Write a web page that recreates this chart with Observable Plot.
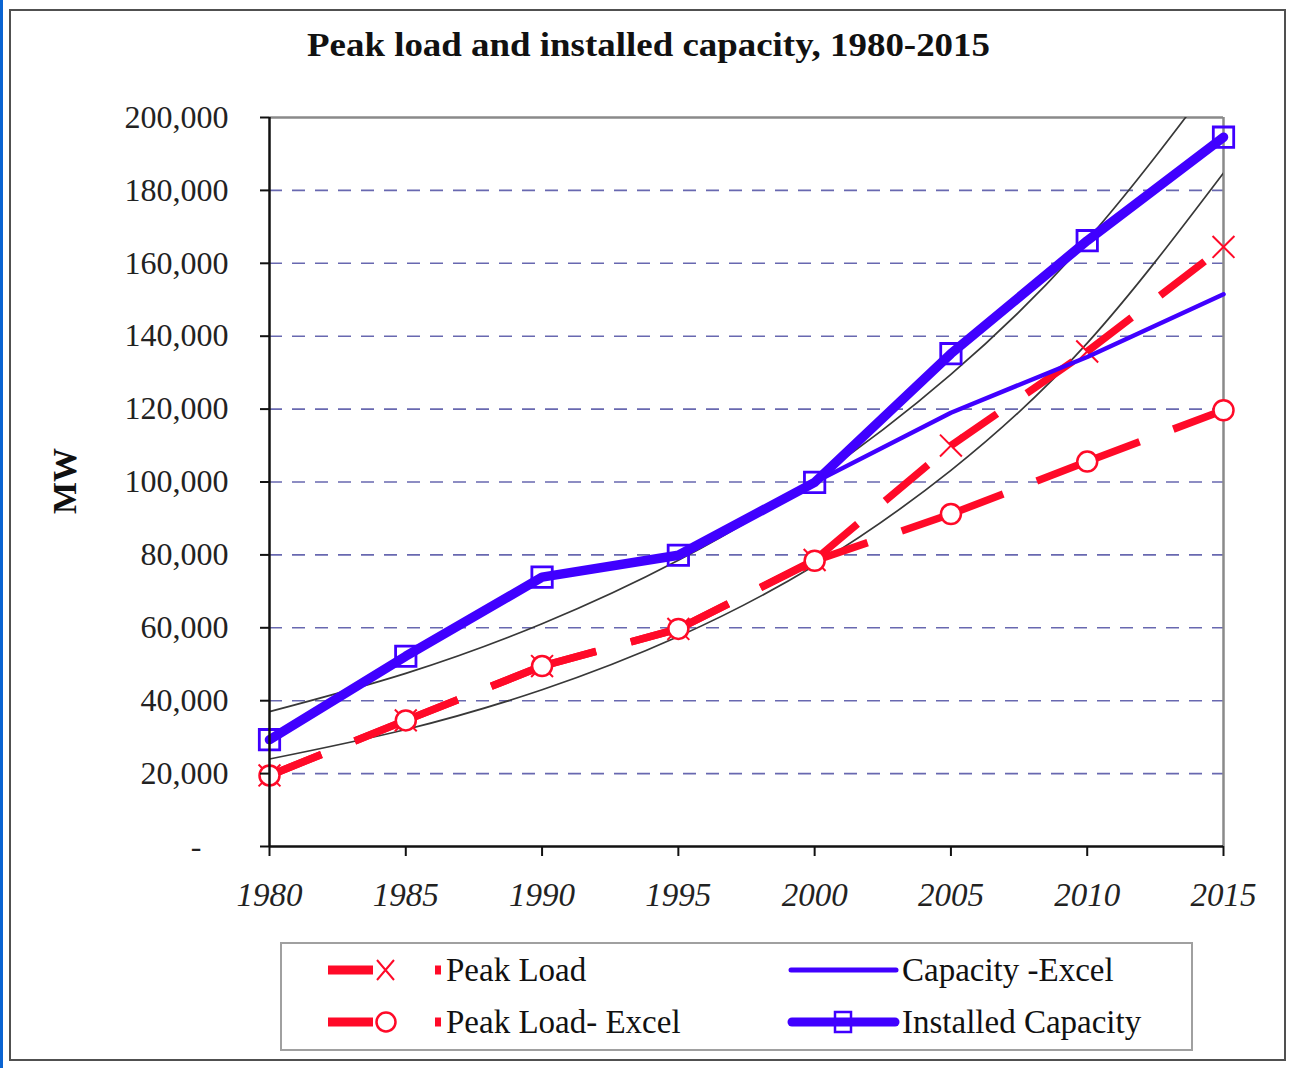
<!DOCTYPE html>
<html>
<head>
<meta charset="utf-8">
<script src="https://cdn.jsdelivr.net/npm/d3@7"></script>
<script src="https://cdn.jsdelivr.net/npm/@observablehq/plot@0.6"></script>
<style>
  html, body { margin: 0; padding: 0; background: #fff; }
  #page { position: relative; width: 1295px; height: 1068px; overflow: hidden; font-family: "Liberation Serif", "Times New Roman", serif; }
  #edge { position: absolute; left: 0; top: 0; width: 3px; height: 1068px; background: #0a64d2; }
  #frame { position: absolute; left: 9px; top: 9px; width: 1277px; height: 1052px; border: 2.5px solid #505050; box-sizing: border-box; }
  #chart { position: absolute; left: 0; top: 0; }
  #deco { position: absolute; left: 0; top: 0; pointer-events: none; }
  .chart text { font-family: "Liberation Serif", "Times New Roman", serif; }
</style>
</head>
<body>
<div id="page">
  <div id="edge"></div>
  <div id="frame"></div>
  <div id="chart"></div>
  <svg id="deco" width="1295" height="1068" xmlns="http://www.w3.org/2000/svg"></svg>
</div>
<script>
// ---- data ----
const years = [1980, 1985, 1990, 1995, 2000, 2005, 2010, 2015];
const peakLoad          = [19500, 34600, 49500, 59700, 78600, 110000, 135800, 164500];
const peakLoadExcel     = [19500, 34600, 49500, 59700, 78400, 91200, 105600, 119700];
const capacityExcel     = [29300, 52200, 73900, 79900, 99900, 119000, 134300, 151500];
const installedCapacity = [29300, 52200, 73900, 79900, 99900, 135200, 166200, 194600];
const trendCapacity     = [37000, 47500, 61100, 78500, 100800, 129500, 166400, 213800];
const trendPeak         = [24000, 32100, 43000, 57600, 77100, 103200, 138100, 184800];
const yTicks = [0, 20000, 40000, 60000, 80000, 100000, 120000, 140000, 160000, 180000, 200000];
const gridTicks = [20000, 40000, 60000, 80000, 100000, 120000, 140000, 160000, 180000];
const seriesNames = ["Peak Load", "Peak Load- Excel", "Capacity -Excel", "Installed Capacity"];
const titleText = "Peak load and installed capacity, 1980-2015";
const yLabel = "MW";

const RED = "#ff0a28";
const BLUE = "#4000ff";
const TREND = "#383838";

const rows = vals => years.map((y, i) => ({year: y, value: vals[i]}));
const segs = vals => years.slice(1).map((y, i) => ({x1: years[i], y1: vals[i], x2: y, y2: vals[i + 1]}));

const chart = Plot.plot({
  width: 1295,
  height: 940,
  marginLeft: 269,
  marginRight: 72,
  marginTop: 117,
  marginBottom: 94,
  className: "chart",
  style: {fontFamily: "Liberation Serif, Times New Roman, serif", background: "transparent", overflow: "visible"},
  x: {type: "linear", domain: [1980, 2015]},
  y: {type: "linear", domain: [0, 200000]},
  marks: [
    Plot.ruleY(gridTicks, {stroke: "#6868b0", strokeWidth: 1.6, strokeDasharray: "13,10"}),
    Plot.ruleY([200000], {stroke: "#8a8a8a", strokeWidth: 2.5}),
    Plot.ruleX([2015], {stroke: "#8a8a8a", strokeWidth: 2.5}),
    // exponential trendlines
    Plot.line(rows(trendCapacity), {x: "year", y: "value", curve: "natural", stroke: TREND, strokeWidth: 1.7, clip: true}),
    Plot.line(rows(trendPeak), {x: "year", y: "value", curve: "natural", stroke: TREND, strokeWidth: 1.7, clip: true}),
    // Peak Load (dashed, x markers)
    Plot.link(segs(peakLoad), {x1: "x1", y1: "y1", x2: "x2", y2: "y2", stroke: RED, strokeWidth: 7.5, strokeDasharray: "56,36", strokeLinecap: "butt"}),
    Plot.dot(rows(peakLoad), {x: "year", y: "value", symbol: "times", r: 10, stroke: RED, strokeWidth: 2}),
    // Peak Load - Excel (dashed, circle markers)
    Plot.link(segs(peakLoadExcel), {x1: "x1", y1: "y1", x2: "x2", y2: "y2", stroke: RED, strokeWidth: 7.5, strokeDasharray: "56,36", strokeLinecap: "butt"}),
    Plot.dot(rows(peakLoadExcel), {x: "year", y: "value", r: 10, fill: "white", stroke: RED, strokeWidth: 2.5}),
    // Capacity - Excel
    Plot.line(rows(capacityExcel), {x: "year", y: "value", stroke: BLUE, strokeWidth: 4.5}),
    // Installed Capacity
    Plot.line(rows(installedCapacity), {x: "year", y: "value", stroke: BLUE, strokeWidth: 9.5}),
    Plot.dot(rows(installedCapacity), {x: "year", y: "value", symbol: "square", r: 11.5, fill: "none", stroke: BLUE, strokeWidth: 2.8}),
    // axes lines
    Plot.ruleX([1980], {stroke: "#111", strokeWidth: 2.5}),
    Plot.ruleY([0], {stroke: "#111", strokeWidth: 2.5}),
    Plot.axisY(yTicks.filter(d => d !== 0), {tickSize: 9, tickPadding: 32, fontSize: 32, tickFormat: d3.format(","), label: null, stroke: "#111", strokeWidth: 2, fill: "#222"}),
    Plot.axisY([0], {tickSize: 9, tickPadding: 59, fontSize: 32, tickFormat: () => "-", label: null, stroke: "#111", strokeWidth: 2, fill: "#222"}),
    Plot.axisX(years, {tickSize: 10, tickPadding: 26, fontSize: 33, fontStyle: "italic", tickFormat: d => String(d), label: null, stroke: "#111", strokeWidth: 2, fill: "#222"})
  ]
});
document.getElementById("chart").appendChild(chart);
chart.querySelectorAll('g[aria-label="x-axis tick label"] text').forEach(t => t.style.fontStyle = "italic");

// ---- title, y label and legend ----
const deco = d3.select("#deco");
const serif = "Liberation Serif, Times New Roman, serif";
deco.append("text").attr("x", 648.5).attr("y", 56).attr("text-anchor", "middle")
  .attr("font-family", serif).attr("font-weight", "bold").attr("font-size", 34).attr("fill", "#111")
  .attr("textLength", 683).attr("lengthAdjust", "spacingAndGlyphs").text(titleText);
deco.append("text").attr("transform", "translate(76,481) rotate(-90)").attr("text-anchor", "middle")
  .attr("font-family", serif).attr("font-weight", "bold").attr("font-size", 34).attr("fill", "#111").text(yLabel);

const lg = deco.append("g");
lg.append("rect").attr("x", 281).attr("y", 943).attr("width", 911).attr("height", 107)
  .attr("fill", "white").attr("stroke", "#a0a0a0").attr("stroke-width", 2);
const rowY = [970, 1022];
// Peak Load entries
[0, 1].forEach(i => {
  const cy = rowY[i];
  lg.append("rect").attr("x", 328).attr("y", cy - 4.5).attr("width", 45).attr("height", 9).attr("fill", RED);
  lg.append("rect").attr("x", 435).attr("y", cy - 4.5).attr("width", 6).attr("height", 9).attr("fill", RED);
  if (i === 0) {
    lg.append("path").attr("d", `M${377},${cy - 10}L${394},${cy + 10}M${394},${cy - 10}L${377},${cy + 10}`)
      .attr("stroke", RED).attr("stroke-width", 2).attr("fill", "none");
  } else {
    lg.append("circle").attr("cx", 386).attr("cy", cy).attr("r", 9.5).attr("fill", "white").attr("stroke", RED).attr("stroke-width", 2.5);
  }
  lg.append("text").attr("x", 446).attr("y", cy + 11).attr("font-family", serif).attr("font-size", 33).attr("fill", "#111").text(seriesNames[i]);
});
// Capacity entries
lg.append("line").attr("x1", 791).attr("x2", 896).attr("y1", rowY[0]).attr("y2", rowY[0])
  .attr("stroke", BLUE).attr("stroke-width", 5).attr("stroke-linecap", "round");
lg.append("text").attr("x", 902).attr("y", rowY[0] + 11).attr("font-family", serif).attr("font-size", 33).attr("fill", "#111").text(seriesNames[2]);
lg.append("line").attr("x1", 792).attr("x2", 895).attr("y1", rowY[1]).attr("y2", rowY[1])
  .attr("stroke", BLUE).attr("stroke-width", 9).attr("stroke-linecap", "round");
lg.append("rect").attr("x", 835).attr("y", rowY[1] - 10).attr("width", 16).attr("height", 20)
  .attr("fill", "none").attr("stroke", BLUE).attr("stroke-width", 2.5);
lg.append("text").attr("x", 902).attr("y", rowY[1] + 11).attr("font-family", serif).attr("font-size", 33).attr("fill", "#111").text(seriesNames[3]);
</script>
</body>
</html>
